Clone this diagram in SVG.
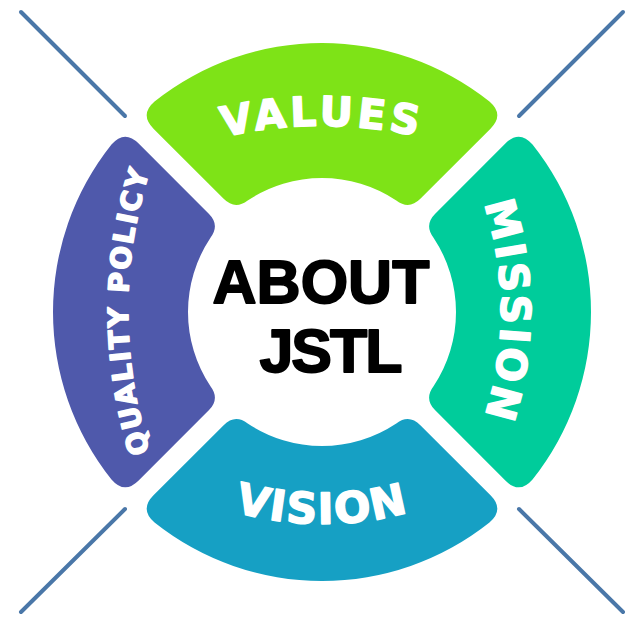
<svg xmlns="http://www.w3.org/2000/svg" xmlns:xlink="http://www.w3.org/1999/xlink" width="644" height="625" viewBox="0 0 644 625">
<style>
.seg-text{font-family:"DejaVu Sans","Liberation Sans",Arial,sans-serif;font-weight:bold;fill:#ffffff;stroke:#ffffff;stroke-width:1.5;stroke-linejoin:round}
.center-text{font-family:"Liberation Sans",Arial,sans-serif;font-weight:bold;fill:#000000;stroke:#000000;stroke-width:1.8;stroke-linejoin:round;font-size:61px;text-anchor:middle}
.diag{stroke:#4a77a8;stroke-width:4;stroke-linecap:round;fill:none}
</style>
<defs>
<path id="seg" d="M489.45,101.48 A269,269 0 0,0 154.55,101.48 Q139.36,114.51 153.50,128.65 L223.65,198.80 Q234.96,210.11 247.71,200.48 A134,134 0 0,1 396.29,200.48 Q409.04,210.11 420.35,198.80 L490.50,128.65 Q504.64,114.51 489.45,101.48 Z"/>
<path id="arc-values" d="M122,172.89 A450,450 0 0,1 522,172.89"/>
<path id="arc-vision" d="M122,455.17 A325,325 0 0,0 522,455.17"/>
<path id="arc-mission" d="M435.95,111 A340,340 0 0,1 435.95,511"/>
<path id="arc-quality" d="M201.67,561 A461,461 0 0,1 201.67,61"/>
</defs>
<rect width="644" height="625" fill="#ffffff"/>
<g id="connectors">
<line class="diag" x1="21" y1="12" x2="125" y2="116"/>
<line class="diag" x1="623" y1="12" x2="519" y2="116"/>
<line class="diag" x1="21" y1="612" x2="125" y2="509"/>
<line class="diag" x1="623" y1="612" x2="519" y2="509"/>
</g>
<g id="node-values">
<use xlink:href="#seg" href="#seg" fill="#7ee317"/>
<text class="seg-text" font-size="41" letter-spacing="3.8"><textPath xlink:href="#arc-values" href="#arc-values" startOffset="50%" text-anchor="middle">VALUES</textPath></text>
</g>
<g id="node-mission">
<use xlink:href="#seg" href="#seg" fill="#00cc9b" transform="rotate(90 322 312)"/>
<text class="seg-text" font-size="41" letter-spacing="3"><textPath xlink:href="#arc-mission" href="#arc-mission" startOffset="50%" text-anchor="middle">MISSION</textPath></text>
</g>
<g id="node-vision">
<use xlink:href="#seg" href="#seg" fill="#16a0c4" transform="rotate(180 322 312)"/>
<text class="seg-text" font-size="43" letter-spacing="1.5"><textPath xlink:href="#arc-vision" href="#arc-vision" startOffset="50%" text-anchor="middle">VISION</textPath></text>
</g>
<g id="node-quality">
<use xlink:href="#seg" href="#seg" fill="#4f59ab" transform="rotate(270 322 312)"/>
<text class="seg-text" font-size="28" letter-spacing="2"><textPath xlink:href="#arc-quality" href="#arc-quality" startOffset="50%" text-anchor="middle">QUALITY POLICY</textPath></text>
</g>
<g id="node-center">
<text class="center-text" x="321" y="303">ABOUT</text>
<text class="center-text" x="330" y="372" font-size="60" letter-spacing="-2">JSTL</text>
</g>
</svg>
